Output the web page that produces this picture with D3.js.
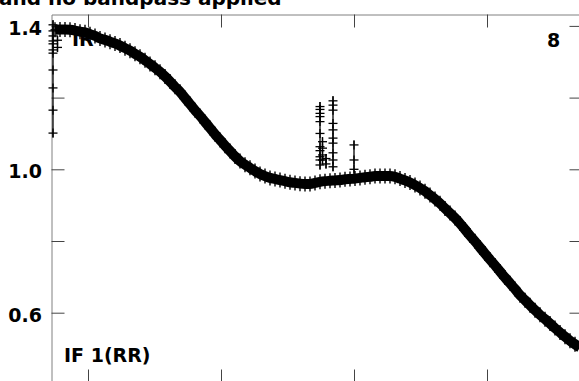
<!DOCTYPE html>
<html><head><meta charset="utf-8">
<script src="https://cdn.jsdelivr.net/npm/d3@7/dist/d3.min.js"></script>
<style>html,body{margin:0;padding:0;background:#fff;} svg{display:block;}</style>
</head><body><svg id="chart" width="579" height="381"></svg>
<script>
// Amplitude per channel (channel 1..106)
const amplitudes = [
1.389,1.390,1.390,1.389,1.387,1.384,1.382,1.377,1.372,1.365,
1.361,1.356,1.351,1.345,1.338,1.331,1.322,1.314,1.304,1.294,
1.283,1.272,1.259,1.245,1.230,1.216,1.199,1.182,1.165,1.149,
1.132,1.115,1.098,1.082,1.066,1.051,1.036,1.023,1.013,1.004,
0.995,0.987,0.981,0.976,0.973,0.970,0.967,0.964,0.962,0.960,
0.959,0.959,0.962,0.965,0.967,0.968,0.969,0.970,0.972,0.973,
0.974,0.976,0.978,0.979,0.981,0.981,0.981,0.981,0.979,0.974,
0.969,0.963,0.956,0.948,0.939,0.928,0.917,0.905,0.891,0.878,
0.864,0.849,0.832,0.815,0.799,0.782,0.765,0.748,0.732,0.715,
0.698,0.682,0.666,0.649,0.635,0.621,0.607,0.594,0.582,0.570,
0.557,0.545,0.533,0.522,0.512,0.503];
const channels = amplitudes.map((d,i)=>i+1);

// Outlying samples (spikes) at given channels
const spikeChannels = [0.6, 1.5, 54, 54.5, 55.2, 56.6, 60.8];
const spikeValues = [
  [1.403,1.386,1.372,1.358,1.350,1.333,1.324,1.277,1.227,1.165,1.101],
  [1.360,1.340],
  [1.175,1.167,1.156,1.147,1.133,1.100,1.063,1.052,1.035,1.026,1.012],
  [1.077,1.059,1.040,1.026],
  [1.030,1.015],
  [1.191,1.179,1.165,1.128,1.110,1.087,1.073,1.046,1.026,1.007],
  [1.068,1.026,1.000]
];

const yTicks = [0.6, 0.8, 1.0, 1.2, 1.4];
const yLabels = {"0.6":"0.6","1":"1.0","1.4":"1.4"};
const xTicks = [7.6, 34.2, 60.8, 87.4];
const titleText = "and no bandpass applied";
const panelLabels = {tl:"IR", tr:"8", bl:"IF 1(RR)"};

const svg = d3.select("#chart");
const x = d3.scaleLinear().domain([0.3, 106.5]).range([51.5, 582.5]);
const y = d3.scaleLinear().domain([0.4053, 1.4318]).range([382.5, 14.5]);

const font = "'DejaVu Sans', sans-serif";

// title
svg.append("text").attr("x", -1).attr("y", 5)
  .attr("font-family", font).attr("font-weight", "bold").attr("font-size", 20)
  .attr("fill", "#000").text(titleText);

function styleAxis(g){
  g.selectAll(".domain").attr("stroke", "#808080").attr("stroke-width", 1);
  g.selectAll(".tick line").attr("stroke", "#444").attr("stroke-width", 1);
}
svg.append("g").attr("transform", "translate(51.5,0)")
  .call(d3.axisLeft(y).tickValues(yTicks).tickSize(-13).tickSizeOuter(0).tickPadding(9.5)
    .tickFormat(d => yLabels[String(d)] || ""))
  .call(styleAxis)
  .call(g => g.selectAll("text").attr("font-family", font).attr("font-weight", "bold")
    .attr("font-size", 19).attr("fill", "#000").attr("dy", "0.45em"));
svg.append("g").attr("transform", "translate(582.5,0)")
  .call(d3.axisRight(y).tickValues(yTicks).tickSize(-13).tickSizeOuter(0).tickFormat(""))
  .call(styleAxis);
svg.append("g").attr("transform", "translate(0,14.5)")
  .call(d3.axisTop(x).tickValues(xTicks).tickSize(-13).tickSizeOuter(0).tickFormat(""))
  .call(styleAxis);
svg.append("g").attr("transform", "translate(0,382.5)")
  .call(d3.axisBottom(x).tickValues(xTicks).tickSize(-13).tickSizeOuter(0).tickFormat(""))
  .call(styleAxis);

// panel labels
const lab = (t, px, py) => svg.append("text").attr("x", px).attr("y", py)
  .attr("font-family", font).attr("font-weight", "bold").attr("font-size", 19)
  .attr("fill", "#000").text(t);
lab(panelLabels.tl, 72, 46);
lab(panelLabels.tr, 547, 47);
lab(panelLabels.bl, 64, 362);

// data band
const pts = channels.map((c,i)=>[c, amplitudes[i]]);
svg.append("path").datum(pts)
  .attr("fill", "none").attr("stroke", "#000").attr("stroke-width", 10)
  .attr("d", d3.line().x(d=>x(d[0])).y(d=>y(d[1])).curve(d3.curveMonotoneX));

function cross(g, cx, cy, hw, hh){
  g.append("line").attr("x1", cx-hw).attr("x2", cx+hw).attr("y1", cy).attr("y2", cy);
  g.append("line").attr("x1", cx).attr("x2", cx).attr("y1", cy-hh).attr("y2", cy+hh);
}
const band = svg.append("g").attr("stroke", "#000").attr("stroke-width", 1.4);
pts.forEach(d => cross(band, x(d[0]), y(d[1]), 4.5, 7.5));

// spikes
const sp = svg.append("g").attr("stroke", "#000").attr("stroke-width", 1.3);
spikeChannels.forEach((c,i) => {
  const vals = spikeValues[i];
  const cx = x(c);
  sp.append("line").attr("x1", cx).attr("x2", cx)
    .attr("y1", y(d3.max(vals))-4.5).attr("y2", y(d3.min(vals))+4.5);
  vals.forEach(v => cross(sp, cx, y(v), 4.5, 4.5));
});
</script></body></html>
